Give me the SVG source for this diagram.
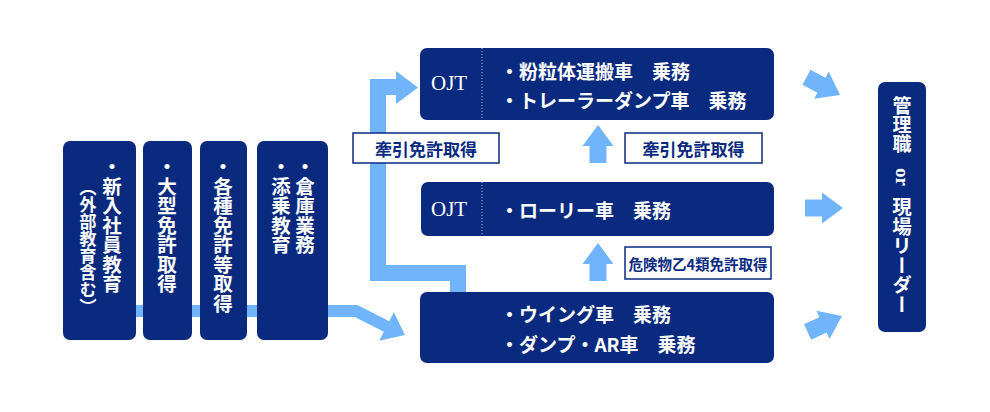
<svg xmlns="http://www.w3.org/2000/svg" width="990" height="412" viewBox="0 0 990 412">
<style>
.box{fill:#0a2a7f}
.flow{fill:#70b5fc}
.lbl{fill:#ffffff;stroke:#0a2a7f;stroke-width:1.5}
.jp{font-family:"Noto Sans CJK JP","Noto Sans",sans-serif;font-weight:700}
.w{fill:#ffffff}
.n{fill:#0a2a7f}
.v{writing-mode:vertical-rl}
.h{dominant-baseline:central}
.ojt{font-family:"Liberation Serif",serif;font-size:21px;fill:#ffffff;dominant-baseline:central}
.div{stroke:#ffffff;stroke-width:1;stroke-dasharray:1 2;opacity:0.7}
</style>
<defs>
<path id="arr" d="M-38,-8.5 L-21,-8.5 L-21,-15.5 L0,0 L-21,15.5 L-21,8.5 L-38,8.5 Z"/>
</defs>
<g id="connectors">
<polygon class="flow" points="100,305 357.5,305 389.2,321.2 393.8,312.3 405,335 379.2,340.7 383.8,331.8 354.8,317 100,317"/>
<polygon class="flow" points="370,79 396,79 396,71 418,87.5 396,104 396,95 386,95 386,265 466,265 466,295 450,295 450,281 370,281"/>
<use href="#arr" class="flow" transform="translate(598,125) rotate(-90)"/>
<use href="#arr" class="flow" transform="translate(598,243) rotate(-90)"/>
<use href="#arr" class="flow" transform="translate(840,95) rotate(28)"/>
<use href="#arr" class="flow" transform="translate(843,208)"/>
<use href="#arr" class="flow" transform="translate(842,316) rotate(-25)"/>
</g>
<g id="n-shinnyu">
<rect class="box" x="63" y="141" width="73" height="199" rx="7"/>
<text class="jp w v" x="112" y="157" font-size="19.5">・新入社員教育</text>
<text class="jp w v" x="88" y="179" font-size="17">（外部教育含む）</text>
</g>
<g id="n-oogata">
<rect class="box" x="143" y="141" width="49" height="199" rx="7"/>
<text class="jp w v" x="167" y="157" font-size="19.5">・大型免許取得</text>
</g>
<g id="n-kakushu">
<rect class="box" x="200" y="141" width="47" height="199" rx="7"/>
<text class="jp w v" x="223" y="157" font-size="19.5">・各種免許等取得</text>
</g>
<g id="n-souko">
<rect class="box" x="257" y="141" width="71" height="199" rx="7"/>
<text class="jp w v" x="305" y="157" font-size="19.5">・倉庫業務</text>
<text class="jp w v" x="281" y="157" font-size="19.5">・添乗教育</text>
</g>
<g id="n-top">
<rect class="box" x="420" y="48" width="354" height="72" rx="7"/>
<line class="div" x1="482" y1="48" x2="482" y2="120"/>
<text class="ojt" x="431" y="83">OJT</text>
<text class="jp w h" x="500" y="70" font-size="19">・粉粒体運搬車　乗務</text>
<text class="jp w h" x="500" y="99" font-size="19">・トレーラーダンプ車　乗務</text>
</g>
<g id="n-mid">
<rect class="box" x="421" y="182" width="353" height="54" rx="7"/>
<line class="div" x1="482" y1="182" x2="482" y2="236"/>
<text class="ojt" x="431" y="208.5">OJT</text>
<text class="jp w h" x="500" y="209" font-size="19">・ローリー車　乗務</text>
</g>
<g id="n-bottom">
<rect class="box" x="420" y="292" width="354" height="71" rx="7"/>
<text class="jp w h" x="500" y="313.5" font-size="19">・ウイング車　乗務</text>
<text class="jp w h" x="500" y="343.5" font-size="19">・ダンプ・AR車　乗務</text>
</g>
<g id="n-leader">
<rect class="box" x="878" y="82" width="48" height="250" rx="7"/>
<text class="jp w v" x="902" y="96" font-size="19">管理職</text>
<text class="w v" x="902" y="168" font-size="19" font-family="Liberation Serif, serif" font-weight="700">or</text>
<text class="jp w v" x="902" y="197" font-size="19.5">現場リーダー</text>
</g>
<g id="l-kenin1">
<rect class="lbl" x="353" y="133" width="146" height="30"/>
<text class="jp n h" x="426" y="148.5" font-size="17" text-anchor="middle">牽引免許取得</text>
</g>
<g id="l-kenin2">
<rect class="lbl" x="625" y="133" width="137" height="30"/>
<text class="jp n h" x="693.5" y="148.5" font-size="17" text-anchor="middle">牽引免許取得</text>
</g>
<g id="l-kiken">
<rect class="lbl" x="625" y="247" width="146" height="32"/>
<text class="jp n h" x="698" y="263.5" font-size="14.5" text-anchor="middle">危険物乙4類免許取得</text>
</g>
</svg>
